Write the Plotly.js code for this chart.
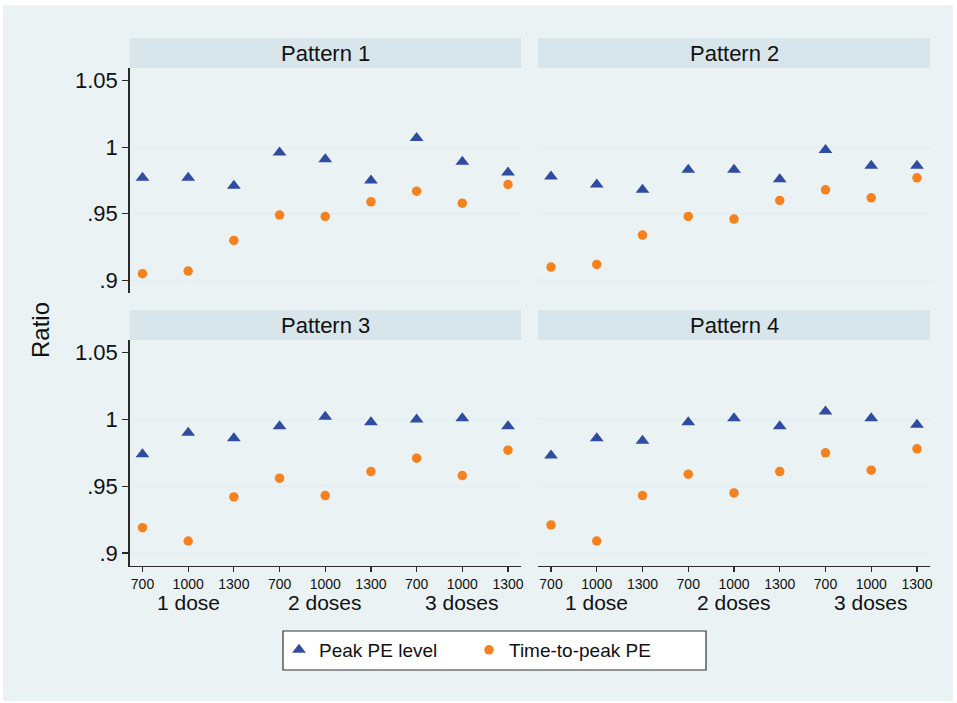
<!DOCTYPE html>
<html>
<head>
<meta charset="utf-8">
<script src="https://cdn.plot.ly/plotly-3.0.1.min.js"></script>
<style>html,body{margin:0;padding:0;background:#fff;}#chart{width:957px;height:703px;}</style>
</head>
<body>
<div id="chart"></div>
<script>
// ---- data ----
const doseLevels = ['700', '1000', '1300'];
const doseGroups = ['1 dose', '2 doses', '3 doses'];
const patternNames = ['Pattern 1', 'Pattern 2', 'Pattern 3', 'Pattern 4'];
const seriesNames = ['Peak PE level', 'Time-to-peak PE'];

const peakP1 = [0.977, 0.977, 0.971, 0.996, 0.991, 0.975, 1.007, 0.989, 0.981];
const peakP2 = [0.978, 0.972, 0.968, 0.983, 0.983, 0.976, 0.998, 0.986, 0.986];
const peakP3 = [0.974, 0.990, 0.986, 0.995, 1.002, 0.998, 1.000, 1.001, 0.995];
const peakP4 = [0.973, 0.986, 0.984, 0.998, 1.001, 0.995, 1.006, 1.001, 0.996];

const ttpP1 = [0.905, 0.907, 0.930, 0.949, 0.948, 0.959, 0.967, 0.958, 0.972];
const ttpP2 = [0.910, 0.912, 0.934, 0.948, 0.946, 0.960, 0.968, 0.962, 0.977];
const ttpP3 = [0.919, 0.909, 0.942, 0.956, 0.943, 0.961, 0.971, 0.958, 0.977];
const ttpP4 = [0.921, 0.909, 0.943, 0.959, 0.945, 0.961, 0.975, 0.962, 0.978];

const yTickVals = [0.9, 0.95, 1, 1.05];
const yTickText = ['.9', '.95', '1', '1.05'];
const yGridVals = [0.9, 0.95, 1];
const yTitle = 'Ratio';

// ---- derived ----
const tickLabels = [];
doseGroups.forEach(() => doseLevels.forEach(l => tickLabels.push(l)));
const xIdx = tickLabels.map((_, i) => i);
const peakAll = [peakP1, peakP2, peakP3, peakP4];
const ttpAll = [ttpP1, ttpP2, ttpP3, ttpP4];

// ---- style ----
const W = 957, H = 703;
const FONT = 'Liberation Sans, Arial, Helvetica, sans-serif';
const NARROW = 'Liberation Sans Narrow, Arial Narrow, Liberation Sans, Arial, sans-serif';
const OUTER = '#eaf2f4';
const STRIP = '#d8e6ec';
const GRID = '#e3eef2';
const AXIS = '#2a2a2a';
const BLUE = '#2f4ca0';
const ORANGE = '#f5821f';
const TXT = '#111111';

const px = v => v / W;
const py = v => 1 - v / H;
const colX = [[129.5, 521], [538, 930]];
const rowY = [[68, 293], [340, 565.7]];
const stripY = [[38, 68], [310, 340]];

const traces = [];
const layout = {
  width: W, height: H,
  margin: {l: 0, r: 0, t: 0, b: 0},
  paper_bgcolor: '#ffffff',
  plot_bgcolor: '#ffffff',
  font: {family: FONT, color: TXT},
  showlegend: true,
  legend: {
    orientation: 'h',
    x: px(279), xanchor: 'left',
    y: py(631), yanchor: 'top',
    bgcolor: 'rgba(0,0,0,0)', borderwidth: 0,
    font: {family: FONT, size: 19, color: TXT},
    entrywidth: 145, entrywidthmode: 'pixels',
    itemclick: false
  },
  shapes: [{
    type: 'rect', xref: 'paper', yref: 'paper',
    x0: px(3), x1: px(953), y0: py(701), y1: py(5),
    fillcolor: OUTER, line: {width: 0}, layer: 'below'
  }, {
    type: 'rect', xref: 'paper', yref: 'paper',
    x0: px(283), x1: px(706), y0: py(670), y1: py(631),
    fillcolor: '#ffffff', line: {color: '#333333', width: 1.2}, layer: 'below'
  }],
  annotations: []
};

for (let p = 0; p < 4; p++) {
  const row = Math.floor(p / 2), col = p % 2;
  const n = p + 1;
  const xa = 'x' + (n === 1 ? '' : n), ya = 'y' + (n === 1 ? '' : n);
  const xKey = 'xaxis' + (n === 1 ? '' : n), yKey = 'yaxis' + (n === 1 ? '' : n);
  const bottom = row === 1, left = col === 0;

  layout[xKey] = {
    domain: [px(colX[col][0]), px(colX[col][1])],
    anchor: ya,
    range: [-0.2845, 8.2845],
    tickmode: 'array', tickvals: xIdx, ticktext: tickLabels,
    showticklabels: bottom,
    ticks: bottom ? 'outside' : '', ticklen: 5, tickwidth: 1.2, tickcolor: AXIS,
    showline: bottom, linecolor: AXIS, linewidth: 1.3,
    showgrid: false, zeroline: false, fixedrange: true,
    tickfont: {family: NARROW, size: 14, color: TXT}
  };
  layout[yKey] = {
    domain: [py(rowY[row][1]), py(rowY[row][0])],
    anchor: xa,
    range: [0.8905, 1.0595],
    tickmode: 'array', tickvals: yTickVals, ticktext: yTickText,
    showticklabels: left,
    ticks: left ? 'outside' : '', ticklen: 6, tickwidth: 1.2, tickcolor: AXIS,
    showline: left, linecolor: AXIS, linewidth: 1.3,
    showgrid: false, zeroline: false, fixedrange: true,
    tickfont: {family: FONT, size: 22, color: TXT}
  };

  yGridVals.forEach(g => layout.shapes.push({
    type: 'line', xref: xa + ' domain', yref: ya,
    x0: 0, x1: 1, y0: g, y1: g,
    line: {color: GRID, width: 1.6}, layer: 'below'
  }));

  // strip
  layout.shapes.push({
    type: 'rect', xref: 'paper', yref: 'paper',
    x0: px(colX[col][0]), x1: px(colX[col][1]),
    y0: py(stripY[row][1]), y1: py(stripY[row][0]),
    fillcolor: STRIP, line: {width: 0}
  });
  layout.annotations.push({
    xref: 'paper', yref: 'paper',
    x: px((colX[col][0] + colX[col][1]) / 2),
    y: py((stripY[row][0] + stripY[row][1]) / 2),
    xanchor: 'center', yanchor: 'middle', showarrow: false,
    text: patternNames[p], font: {family: FONT, size: 22, color: TXT}
  });

  if (bottom) {
    doseGroups.forEach((g, gi) => layout.annotations.push({
      xref: xa, yref: 'paper',
      x: gi * doseLevels.length + (doseLevels.length - 1) / 2,
      y: py(602), xanchor: 'center', yanchor: 'middle', showarrow: false,
      text: g, font: {family: FONT, size: 21, color: TXT}
    }));
  }

  traces.push({
    type: 'scatter', mode: 'markers', x: xIdx, y: peakAll[p],
    xaxis: xa, yaxis: ya, name: seriesNames[0], legendgroup: 'peak',
    showlegend: p === 0,
    marker: {symbol: 'triangle-up', size: 12, color: BLUE},
    hoverinfo: 'skip'
  });
  traces.push({
    type: 'scatter', mode: 'markers', x: xIdx, y: ttpAll[p],
    xaxis: xa, yaxis: ya, name: seriesNames[1], legendgroup: 'ttp',
    showlegend: p === 0,
    marker: {symbol: 'circle', size: 9.5, color: ORANGE},
    hoverinfo: 'skip'
  });
}

layout.annotations.push({
  xref: 'paper', yref: 'paper', x: px(40), y: py(330),
  xanchor: 'center', yanchor: 'middle', showarrow: false, textangle: -90,
  text: yTitle, font: {family: FONT, size: 24, color: TXT}
});

Plotly.newPlot('chart', traces, layout, {staticPlot: true, displayModeBar: false});
</script>
</body>
</html>
